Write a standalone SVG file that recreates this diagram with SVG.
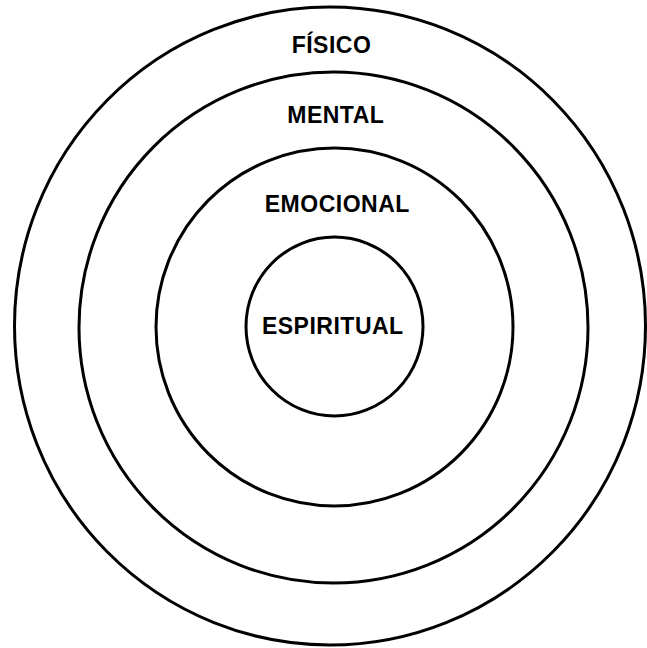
<svg xmlns="http://www.w3.org/2000/svg" width="647" height="648" viewBox="0 0 647 648">
<style>
.ring{fill:none;stroke:#000;stroke-width:3}
.lbl{font-family:"Liberation Sans",Arial,Helvetica,sans-serif;font-weight:bold;font-size:23px;letter-spacing:0.5px;fill:#000;text-anchor:middle}
</style>
<rect width="647" height="648" fill="#fff"/>
<g id="fisico">
<ellipse class="ring" cx="330" cy="326" rx="315.5" ry="319"/>
<text class="lbl" x="331.5" y="52.5">FÍSICO</text>
</g>
<g id="mental">
<ellipse class="ring" cx="333.5" cy="327.5" rx="254.5" ry="255.5"/>
<text class="lbl" x="335.8" y="123.3">MENTAL</text>
</g>
<g id="emocional">
<ellipse class="ring" cx="334.5" cy="327" rx="178.5" ry="179"/>
<text class="lbl" x="337.3" y="211.7">EMOCIONAL</text>
</g>
<g id="espiritual">
<ellipse class="ring" cx="334.5" cy="326.5" rx="88.5" ry="89.5"/>
<text class="lbl" x="332.8" y="334.3">ESPIRITUAL</text>
</g>
<g id="connectors"/>
</svg>
